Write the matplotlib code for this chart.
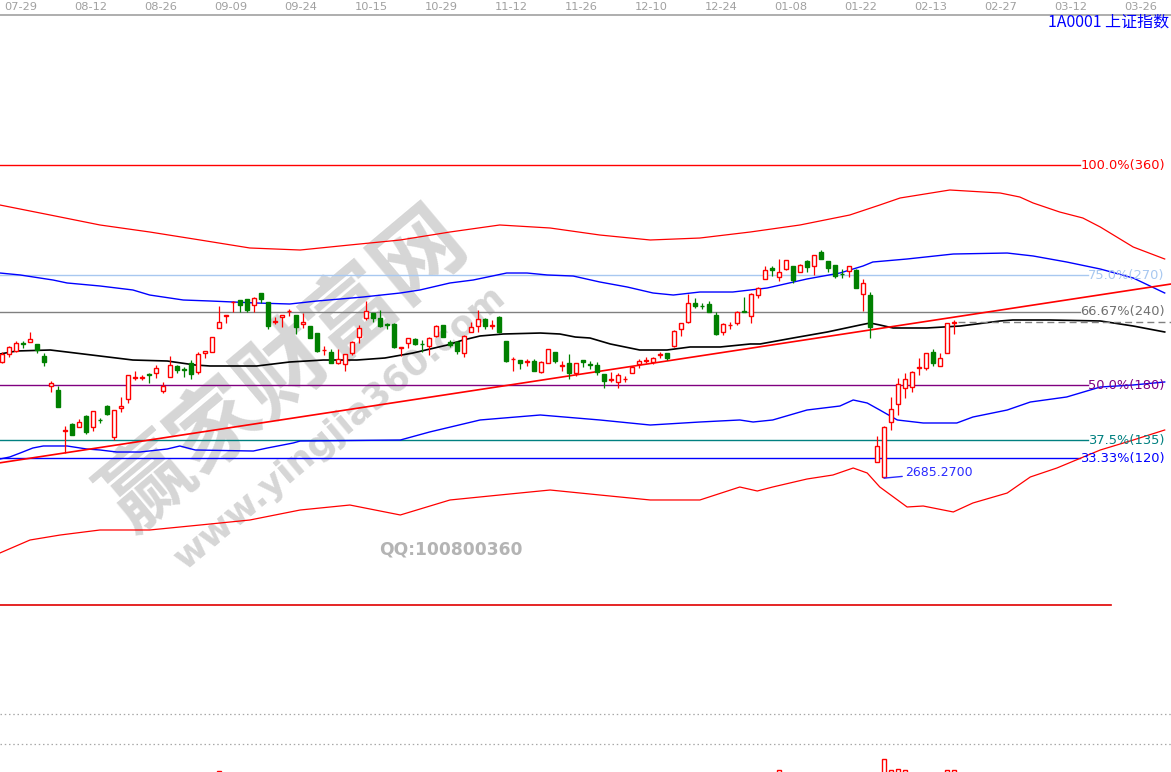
import matplotlib
matplotlib.use('Agg')
import matplotlib.pyplot as plt
from matplotlib.transforms import blended_transform_factory
import numpy as np

# ---------------- data (Shanghai Composite, daily, idx 0 = 07-29) ----------------
first_idx = -3
opens = [2909.6, 2924.4, 2930.8, 2945.6, 2946.9, 2943.6, 2920.5, 2862.8, 2855.0, 2775.4,
         2789.6, 2784.4, 2805.6, 2783.1, 2797.9, 2824.2, 2763.9, 2819.7, 2837.1, 2878.8,
         2878.2, 2885.9, 2887.2, 2853.1, 2880.7, 2901.3, 2895.5, 2906.4, 2889.1, 2927.0,
         2928.9, 2973.8, 2998.2, 3023.9, 3028.4, 3030.3, 3018.8, 3042.5, 3025.2, 2986.0,
         2995.0, 3006.6, 2999.5, 2981.5, 2978.3, 2964.2, 2931.5, 2927.6, 2906.4, 2904.5,
         2925.7, 2956.5, 2994.4, 3004.0, 2993.1, 2982.2, 2981.5, 2935.3, 2946.2, 2952.6,
         2944.3, 2940.4, 2959.7, 2980.3, 2948.2, 2946.9, 2925.7, 2966.1, 2979.0, 2991.8,
         2978.3, 2995.0, 2949.4, 2914.1, 2912.8, 2909.0, 2910.9, 2890.4, 2906.4, 2927.6,
         2901.3, 2907.7, 2887.2, 2912.8, 2905.1, 2903.2, 2885.9, 2875.0, 2871.1, 2875.6,
         2887.2, 2904.5, 2910.9, 2909.6, 2923.1, 2925.7, 2939.8, 2971.9, 2986.7, 3022.0,
         3017.5, 3020.1, 2999.5, 2967.4, 2979.6, 2983.5, 3006.6, 2998.2, 3038.0, 3068.2,
         3090.7, 3072.1, 3088.1, 3093.9, 3083.0, 3103.5, 3093.9, 3121.5, 3104.2, 3095.8,
         3079.1, 3084.3, 3086.2, 3039.3, 3038.0, 2717.0, 2686.8, 2792.8, 2827.4, 2859.5,
         2861.5, 2896.8, 2896.8, 2927.6, 2901.3, 2925.7, 2984.8]
highs = [2928.9, 2939.8, 2949.4, 2949.4, 2967.4, 2943.6, 2927.0, 2872.4, 2863.4, 2786.3,
         2790.8, 2798.5, 2807.5, 2814.6, 2801.8, 2826.2, 2816.5, 2842.2, 2883.3, 2891.6,
         2883.9, 2887.2, 2903.2, 2871.1, 2920.5, 2903.2, 2898.7, 2912.8, 2928.9, 2930.2,
         2956.5, 3016.9, 2999.5, 3027.1, 3028.4, 3030.3, 3033.5, 3042.5, 3025.2, 2996.3,
         2998.9, 3011.1, 2999.5, 3004.0, 2978.3, 2964.2, 2939.8, 2934.0, 2934.0, 2923.8,
         2949.4, 2980.3, 3026.5, 3004.0, 3009.1, 2984.8, 2983.5, 2938.5, 2954.6, 2954.6,
         2951.4, 2957.8, 2980.3, 2980.3, 2951.4, 2950.1, 2961.0, 2986.7, 3009.1, 2993.1,
         2989.9, 2997.6, 2949.4, 2918.0, 2912.8, 2914.1, 2914.8, 2910.9, 2933.4, 2928.9,
         2910.9, 2923.8, 2906.4, 2912.8, 2911.6, 2909.6, 2885.9, 2889.1, 2887.2, 2882.0,
         2898.7, 2914.1, 2919.3, 2918.0, 2928.9, 2925.7, 2970.6, 2983.5, 3040.0, 3032.9,
         3022.0, 3026.5, 3005.9, 2983.5, 2986.7, 3007.2, 3034.8, 3041.3, 3052.8, 3094.5,
         3093.9, 3106.7, 3105.5, 3094.5, 3097.8, 3105.5, 3115.1, 3124.7, 3104.2, 3095.8,
         3088.1, 3094.5, 3088.1, 3068.2, 3044.5, 2766.4, 2785.7, 2842.2, 2877.5, 2887.2,
         2891.6, 2916.0, 2925.7, 2934.0, 2925.7, 2983.5, 2989.9]
lows = [2907.7, 2918.0, 2928.9, 2935.3, 2946.9, 2927.0, 2901.9, 2851.8, 2822.9, 2733.9,
        2768.4, 2783.1, 2770.3, 2776.7, 2792.1, 2806.9, 2758.7, 2813.3, 2830.6, 2874.3,
        2874.3, 2869.2, 2877.5, 2849.9, 2880.7, 2888.4, 2879.4, 2875.6, 2885.2, 2916.0,
        2927.6, 2973.8, 2983.5, 3005.9, 3005.9, 3005.9, 3005.9, 3022.0, 2971.9, 2982.2,
        2977.0, 2998.2, 2962.3, 2975.1, 2955.9, 2928.9, 2922.5, 2906.4, 2905.1, 2892.3,
        2922.5, 2944.9, 2989.9, 2986.7, 2977.0, 2971.9, 2936.6, 2920.5, 2935.3, 2941.7,
        2928.9, 2922.5, 2957.8, 2956.5, 2938.5, 2924.4, 2918.0, 2966.1, 2966.1, 2971.9,
        2971.9, 2964.2, 2908.3, 2892.3, 2894.9, 2901.3, 2892.3, 2888.4, 2906.4, 2906.4,
        2892.3, 2875.6, 2882.7, 2898.7, 2894.9, 2883.9, 2859.5, 2871.1, 2858.3, 2871.1,
        2887.2, 2896.8, 2906.4, 2904.5, 2917.3, 2912.8, 2937.2, 2959.7, 2983.5, 3012.4,
        3011.1, 3005.9, 2961.0, 2961.0, 2971.9, 2980.3, 3004.7, 2984.8, 3031.6, 3068.2,
        3075.3, 3065.6, 3086.2, 3060.5, 3083.0, 3083.0, 3076.6, 3107.4, 3083.0, 3070.1,
        3070.1, 3073.4, 3052.2, 3007.9, 2955.9, 2717.0, 2685.27, 2778.0, 2806.9, 2840.3,
        2851.8, 2883.9, 2893.6, 2901.9, 2901.3, 2925.7, 2962.3]
closes = [2924.4, 2937.2, 2946.2, 2944.3, 2952.6, 2932.1, 2909.6, 2867.9, 2822.9, 2778.0,
          2768.4, 2794.0, 2773.5, 2814.6, 2796.6, 2808.8, 2816.5, 2824.2, 2883.3, 2880.1,
          2879.4, 2884.6, 2896.8, 2862.8, 2902.6, 2893.6, 2894.2, 2885.9, 2923.8, 2929.5,
          2956.5, 2985.4, 2999.5, 3025.2, 3018.8, 3009.1, 3031.6, 3030.3, 2979.0, 2987.3,
          2998.9, 3007.9, 2977.0, 2985.4, 2955.9, 2930.8, 2932.7, 2906.4, 2914.8, 2923.8,
          2946.9, 2973.8, 3007.2, 2993.1, 2979.0, 2980.9, 2938.5, 2938.5, 2954.6, 2943.0,
          2943.0, 2954.6, 2979.0, 2956.5, 2941.7, 2930.8, 2959.1, 2975.8, 2991.2, 2979.0,
          2979.6, 2966.1, 2910.9, 2915.4, 2906.4, 2910.3, 2892.3, 2908.3, 2933.4, 2911.6,
          2902.6, 2887.2, 2906.4, 2908.3, 2903.8, 2889.1, 2873.0, 2876.2, 2883.9, 2876.9,
          2898.7, 2911.6, 2912.2, 2916.0, 2924.4, 2916.0, 2968.7, 2983.5, 3022.0, 3016.9,
          3016.2, 3005.9, 2962.9, 2982.2, 2980.9, 3005.9, 3005.3, 3039.3, 3050.9, 3086.2,
          3086.2, 3083.0, 3105.5, 3066.9, 3095.8, 3092.6, 3115.1, 3107.4, 3090.7, 3075.3,
          3077.9, 3094.5, 3052.2, 3060.5, 2977.0, 2747.2, 2784.4, 2817.8, 2866.0, 2875.6,
          2890.4, 2900.0, 2925.7, 2907.7, 2916.0, 2983.5, 2986.0]

# channel lines (sampled along the index axis)
mid_idx = [-3.3, -0.9, 3.9, 6.3, 11, 15.7, 20.6, 24.6, 26.7, 33.4, 38.1, 42.9, 47.7, 51.7,
           55.7, 60.6, 62.9, 65.3, 68.6, 73.9, 76.7, 78.9, 81, 83.9, 88.1, 92, 95.3, 99.6,
           103.9, 105.3, 110, 114.9, 119.6, 121, 122.4, 124.3, 129.1, 133.9, 139.6, 141.4,
           146.7, 153.9, 158.6, 163.1]
mid_val = [2924.4, 2930.2, 2932.1, 2928.2, 2920.5, 2912.8, 2910.9, 2903.2, 2901.3, 2901.3,
           2909.0, 2912.8, 2912.8, 2916.7, 2926.3, 2941.7, 2951.4, 2959.1, 2962.9, 2964.8,
           2962.9, 2957.1, 2955.2, 2943.7, 2932.1, 2932.1, 2937.9, 2937.9, 2943.7, 2943.7,
           2955.2, 2966.8, 2980.3, 2984.1, 2980.3, 2974.5, 2974.5, 2978.3, 2988.0, 2989.9,
           2989.9, 2988.0, 2978.3, 2966.8]

up_in_idx = [-3.3, -0.4, 4.3, 6.3, 11, 15.7, 18.1, 22.9, 26.7, 33.4, 38.1, 42, 45.3, 48.6,
             53.9, 56.7, 61, 64.3, 69.1, 72, 74.9, 78.6, 82.4, 86.3, 90, 92.9, 96.7, 101.4,
             106.3, 112, 116.7, 120, 121.4, 126.3, 132.9, 140.6, 144.3, 149.1, 153.9, 158.6, 163.1]
up_in_val = [3080.4, 3076.6, 3066.9, 3061.2, 3055.4, 3047.7, 3038.0, 3028.4, 3026.5, 3022.6,
             3020.7, 3026.5, 3030.3, 3034.2, 3041.9, 3047.7, 3061.2, 3066.9, 3080.4, 3080.4,
             3076.6, 3074.6, 3063.1, 3053.5, 3041.9, 3038.0, 3043.8, 3043.8, 3051.5, 3068.9,
             3080.4, 3093.9, 3101.6, 3107.4, 3117.0, 3118.9, 3113.2, 3101.6, 3088.1, 3070.8, 3041.9]

lo_in_idx = [-3.3, -1.9, -0.4, 1.4, 2.9, 6.3, 9.1, 11, 13.4, 16.7, 20.6, 22.4, 24.6, 32.9,
             34.9, 38.6, 39.6, 53.9, 58.1, 65.3, 73.9, 82.4, 89.6, 96.7, 102.4, 104.3, 107.1,
             112, 116.7, 118.6, 120.6, 122.4, 124.9, 128.6, 133.4, 135.7, 140.6, 143.9, 149.1,
             153.9, 158.6, 163.1]
lo_in_val = [2722.1, 2726.0, 2733.7, 2743.3, 2747.2, 2747.2, 2741.4, 2739.5, 2735.6, 2735.6,
             2741.4, 2747.2, 2739.5, 2737.5, 2743.3, 2753.0, 2756.8, 2758.7, 2774.2, 2797.3,
             2806.9, 2797.3, 2787.6, 2793.4, 2797.3, 2793.4, 2797.3, 2816.5, 2824.2, 2835.8,
             2830.0, 2816.5, 2797.3, 2791.5, 2791.5, 2803.0, 2816.5, 2831.9, 2841.6, 2860.8,
             2864.7, 2870.5]

up_out_idx = [-3.3, 3.9, 11, 18.1, 25.3, 32.4, 39.6, 46.7, 53.9, 61, 68.1, 75.3, 82.4, 89.6,
              96.7, 103.9, 111, 118.1, 122.4, 125.3, 132.4, 139.6, 142.4, 144.3, 148.1, 151.4,
              153.9, 158.6, 163.1]
up_out_val = [3211.4, 3192.1, 3172.9, 3159.4, 3144.0, 3128.6, 3124.7, 3134.4, 3144.0, 3159.4,
              3172.9, 3167.1, 3153.6, 3144.0, 3147.8, 3159.4, 3172.9, 3192.1, 3211.4, 3224.9,
              3240.3, 3234.5, 3226.8, 3215.3, 3197.9, 3186.4, 3169.0, 3130.5, 3107.4]

lo_out_idx = [-3.3, 1, 5.3, 11, 18.1, 25.3, 32.4, 39.6, 46.7, 53.9, 61, 68.1, 75.3, 82.4,
              89.6, 96.7, 102.4, 104.9, 107.1, 112, 115.7, 118.6, 120.6, 122.4, 126.3, 128.6,
              132.9, 135.7, 140.6, 143.9, 147.7, 153.9, 158.6, 163.1]
lo_out_val = [2541.1, 2566.1, 2575.7, 2585.4, 2585.4, 2595.0, 2604.6, 2623.9, 2633.5, 2614.3,
              2643.2, 2652.8, 2662.4, 2652.8, 2643.2, 2643.2, 2668.2, 2660.5, 2668.2, 2683.6,
              2691.3, 2704.8, 2695.2, 2668.2, 2629.7, 2631.6, 2620.1, 2637.4, 2656.6, 2687.5,
              2704.8, 2739.5, 2758.7, 2778.0]

# trend line through two points (index, price)
trend_pts = [(6, 2733.92), (164, 3059.2)]

# Fibonacci / Gann levels
fib_low, fib_high = 2440.91, 3288.45
fib_ratios = [1.0, 0.75, 2 / 3, 0.5, 0.375, 1 / 3]
fib_texts = ['100.0%(360)', '75.0%(270)', '66.67%(240)', '50.0%(180)', '37.5%(135)', '33.33%(120)']
fib_colors = ['#ff0000', '#a8c8f0', '#808080', '#800080', '#008080', '#0000ff']
fib_text_colors = ['#ff0000', '#a8c8f0', '#707070', '#800080', '#008080', '#0000ff']

# date axis
date_pos = [0, 10, 20, 30, 40, 50, 60, 70, 80, 90, 100, 110, 120, 130, 140, 150, 160]
date_labels = ['07-29', '08-12', '08-26', '09-09', '09-24', '10-15', '10-29', '11-12', '11-26',
               '12-10', '12-24', '01-08', '01-22', '02-13', '02-27', '03-12', '03-26']

# volume (only the tallest bars peek into view)
vol_idx = [28, 108, 123, 124, 125, 126, 132, 133]
vol_val = [405, 410, 465, 410, 415, 410, 410, 410]

low_label = '2685.2700'
title_text = '1A0001 上证指数'

# ---------------- figure ----------------
W_PX, H_PX = 1171, 772
fig = plt.figure(figsize=(W_PX / 100, H_PX / 100), dpi=100)
fig.patch.set_facecolor('white')
ax = fig.add_axes([0, 0, 1, 1])
ax.set_axis_off()
X0, X1 = -23 / 7, 1148 / 7
ax.set_xlim(X0, X1)
ax.set_ylim(2119.23, 3606.28)

RED = '#ff0000'
GREEN = '#008000'

# watermark
ax.text(0.2434, 0.5207, '赢家财富网', transform=ax.transAxes, rotation=40,
        rotation_mode='anchor', ha='center', va='center', fontsize=64, fontweight='bold',
        family=['Noto Sans CJK SC', 'DejaVu Sans'], color='#d6d6d6', zorder=0)
ax.text(0.2903, 0.4456, 'www.yingjia360.com', transform=ax.transAxes, rotation=40,
        rotation_mode='anchor', ha='center', va='center', fontsize=26, fontweight='bold',
        family='DejaVu Sans', color='#d6d6d6', zorder=0)
ax.text(0.385, 0.2876, 'QQ:100800360', transform=ax.transAxes, ha='center', va='center',
        fontsize=12.3, fontweight='bold', family='DejaVu Sans', color='#b4b4b4', zorder=0)

# header
bt = blended_transform_factory(ax.transData, ax.transAxes)
ax.plot([0, 1], [1 - 15 / H_PX] * 2, transform=ax.transAxes, color='#a8a8a8', lw=1.3, zorder=1)
for p, s in zip(date_pos, date_labels):
    ax.text(p - 0.3, 1 - 7.5 / H_PX, s, transform=bt, ha='center', va='center', fontsize=8.2,
            family=['Liberation Sans Narrow', 'DejaVu Sans'], color='#a0a0a0')
ax.text(0.9985, 1 - 22 / H_PX, title_text, transform=ax.transAxes, ha='right', va='center',
        fontsize=11.5, family=['Noto Sans CJK SC', 'DejaVu Sans'], color='#0000ff')

# bottom panel separators
for yy in (714, 744):
    ax.plot([0, 1], [1 - yy / H_PX] * 2, transform=ax.transAxes, color='#a8a8a8', lw=0.9,
            ls=(0, (1.2, 2.2)), zorder=1)

# Fibonacci levels
fib_levels = [fib_low + r * (fib_high - fib_low) for r in fib_ratios]
texts = []
for lvl, s, tc in zip(fib_levels, fib_texts, fib_text_colors):
    t = ax.text(163.1, lvl, s, ha='right', va='center', fontsize=9.4, family='DejaVu Sans',
                color=tc, zorder=6)
    texts.append(t)
fig.canvas.draw()
rend = fig.canvas.get_renderer()
inv = ax.transData.inverted()
for t, lvl, col in zip(texts, fib_levels, fib_colors):
    bb = t.get_window_extent(rend)
    xl = inv.transform((bb.x0, 0))[0]
    ax.plot([X0, xl], [lvl, lvl], color=col, lw=1.0, zorder=2)
ax.plot([X0, 155.4], [fib_low, fib_low], color='#e00000', lw=1.2, zorder=2)

# channel lines
ax.plot(up_out_idx, up_out_val, color=RED, lw=0.9, zorder=2)
ax.plot(lo_out_idx, lo_out_val, color=RED, lw=0.9, zorder=2)
ax.plot(up_in_idx, up_in_val, color='#0000ff', lw=1.0, zorder=2)
ax.plot(lo_in_idx, lo_in_val, color='#0000ff', lw=1.0, zorder=2)
ax.plot(mid_idx, mid_val, color='#000000', lw=1.2, zorder=2)

# trend line
ax.axline(trend_pts[0], trend_pts[1], color=RED, lw=1.2, zorder=2)

# candles
o = np.array(opens); h = np.array(highs); l = np.array(lows); c = np.array(closes)
idx = np.arange(first_idx, first_idx + len(o))
up = c >= o
ax.vlines(idx[up], l[up], h[up], color=RED, lw=0.9, zorder=3)
ax.vlines(idx[~up], l[~up], h[~up], color=GREEN, lw=0.9, zorder=3)
BW = 0.66
ax.bar(idx[up], c[up] - o[up], bottom=o[up], width=BW, facecolor='white', edgecolor=RED,
       lw=1.0, zorder=4)
ax.bar(idx[~up], o[~up] - c[~up], bottom=c[~up], width=BW, facecolor=GREEN, edgecolor=GREEN,
       lw=1.0, zorder=4)

# last close dashed line
ax.plot([idx[-1] + 0.5, X1], [c[-1], c[-1]], color='#808080', lw=1.0, ls=(0, (5, 3)), zorder=2)

# low annotation
low_i = int(idx[np.argmin(l)])
ax.annotate(low_label, xy=(low_i, l.min()), xytext=(low_i + 3, l.min() + 10),
            ha='left', va='center', fontsize=9, family='DejaVu Sans', color='#2a2aff',
            arrowprops=dict(arrowstyle='-', color='#2a2aff', lw=1.0, shrinkA=0, shrinkB=0),
            zorder=6)

# volume strip
vax = fig.add_axes([0, 0, 1, 28 / H_PX])
vax.set_axis_off()
vax.set_xlim(X0, X1)
vax.set_ylim(400, 540)
vax.bar(vol_idx, vol_val, width=BW, facecolor='white', edgecolor=RED, lw=1.0)

fig.savefig('out.png', dpi=100, facecolor='white')
